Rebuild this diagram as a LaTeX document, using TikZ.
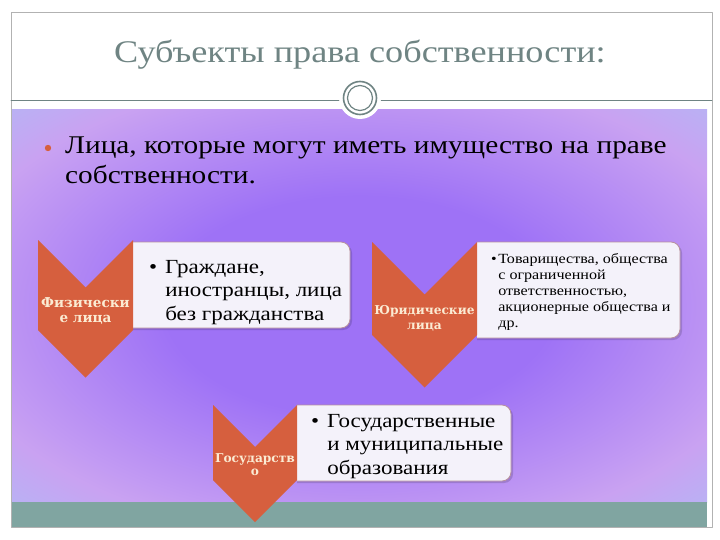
\documentclass[tikz,border=0pt]{standalone}
\usepackage{fontspec}
\setmainfont{Liberation Serif}[FakeStretch=1.15]
\newfontfamily\labelfont{DejaVu Serif}
\definecolor{bgpurple}{HTML}{9E72F6}
\definecolor{bgpink}{HTML}{C9A2F2}
\definecolor{bgblue}{HTML}{A2C8F6}
\definecolor{chevred}{HTML}{D65F3E}
\definecolor{labcream}{HTML}{FBEBD3}
\definecolor{boxfill}{HTML}{F4F2FA}
\definecolor{boxline}{HTML}{B7909E}
\definecolor{slate}{HTML}{6F8483}
\definecolor{band}{HTML}{80A5A1}
\pgfdeclareradialshading{slidebg}{\pgfpoint{0bp}{0bp}}{color(0bp)=(bgpurple); color(14bp)=(bgpurple); color(30bp)=(bgpink); color(44bp)=(bgblue); color(50bp)=(bgblue)}
\begin{document}
\begin{tikzpicture}[x=1pt, y=-1pt, line join=round, line cap=round,
	chev/.style={fill=chevred},
	tbox/.style={fill=boxfill, draw=boxline, line width=.8pt, rounded corners=9pt},
	tshadow/.style={fill=black, opacity=.15, rounded corners=9pt},
	clabel/.style={text=labcream, align=center, inner sep=0pt},
	bigtext/.style={font=\fontsize{20}{23.5}\selectfont, anchor=north west, inner sep=0pt},
	smalltext/.style={font=\fontsize{14}{16}\selectfont, anchor=north west, inner sep=0pt}]
	\useasboundingbox (0,0) rectangle (720,540);
	\fill[white] (0,0) rectangle (720,540);
	% background
	\shade[shading=slidebg] (12,110) rectangle (707,502);
	\fill[band] (12,502) rectangle (707,527);
	\draw[gray!60, line width=.6pt] (11,12) rectangle (712,527);
	\draw[slate, line width=.8pt] (11,100) -- (342,100) (378,100) -- (712,100);
	\fill[white] (360,98) circle (21);
	\draw[slate, line width=1.6pt] (360,98) circle (16.5);
	\draw[slate, line width=1.2pt] (360,98) circle (12.5);
	\node[font=\fontsize{31.5}{34}\selectfont, text=slate] (title) at (360,55) {Субъекты права собственности:};
	\fill[chevred] (48,148) circle (3.2);
	\node[font=\fontsize{25.5}{29.5}\selectfont, align=left, anchor=north west, inner sep=0pt] (lead) at (65,137) {Лица, которые могут иметь имущество на праве\\собственности.};
	% boxes
	\foreach \xa/\ya/\xb/\yb in {133/242/350/328, 477/242/680/338, 297/405/511/481}{
		\fill[tshadow] (\xa,\ya+2) -- (\xb+2,\ya+2) -- (\xb+2,\yb+2) -- (\xa,\yb+2);
		\draw[tbox] (\xa,\ya) -- (\xb,\ya) -- (\xb,\yb) -- (\xa,\yb);
	}
	% chevrons
	\foreach \cx/\cy/\w/\h in {85.5/240/47.5/90, 424.5/242/52.5/93, 255/405/42/75}
		\fill[chev] (\cx-\w,\cy) -- (\cx,\cy+\w) -- (\cx+\w,\cy) -- (\cx+\w,\cy+\h) -- (\cx,\cy+\h+\w) -- (\cx-\w,\cy+\h) -- cycle;
	\node[clabel, font=\labelfont\bfseries\fontsize{13.6}{15.5}\selectfont] (fiz) at (85.5,311) {Физически\\е лица};
	\node[clabel, font=\labelfont\bfseries\fontsize{12.2}{15}\selectfont] (yur) at (424.5,318) {Юридические\\лица};
	\node[clabel, font=\labelfont\bfseries\fontsize{12.2}{13}\selectfont] (gos) at (255,465) {Государств\\о};
	% box texts
	\node[bigtext] (fiztext) at (149,256.5) {\begin{tabular}{@{}l@{\hspace{8pt}}l@{}}•&Граждане,\\&иностранцы, лица\\&без гражданства\end{tabular}};
	\node[smalltext] (yurtext) at (491,251.8) {\begin{tabular}{@{}l@{\hspace{1.5pt}}l@{}}•&Товарищества, общества\\&с ограниченной\\&ответственностью,\\&акционерные общества и\\&др.\end{tabular}};
	\node[bigtext] (gostext) at (311,410.5) {\begin{tabular}{@{}l@{\hspace{8pt}}l@{}}•&Государственные\\&и муниципальные\\&образования\end{tabular}};
\end{tikzpicture}
\end{document}
